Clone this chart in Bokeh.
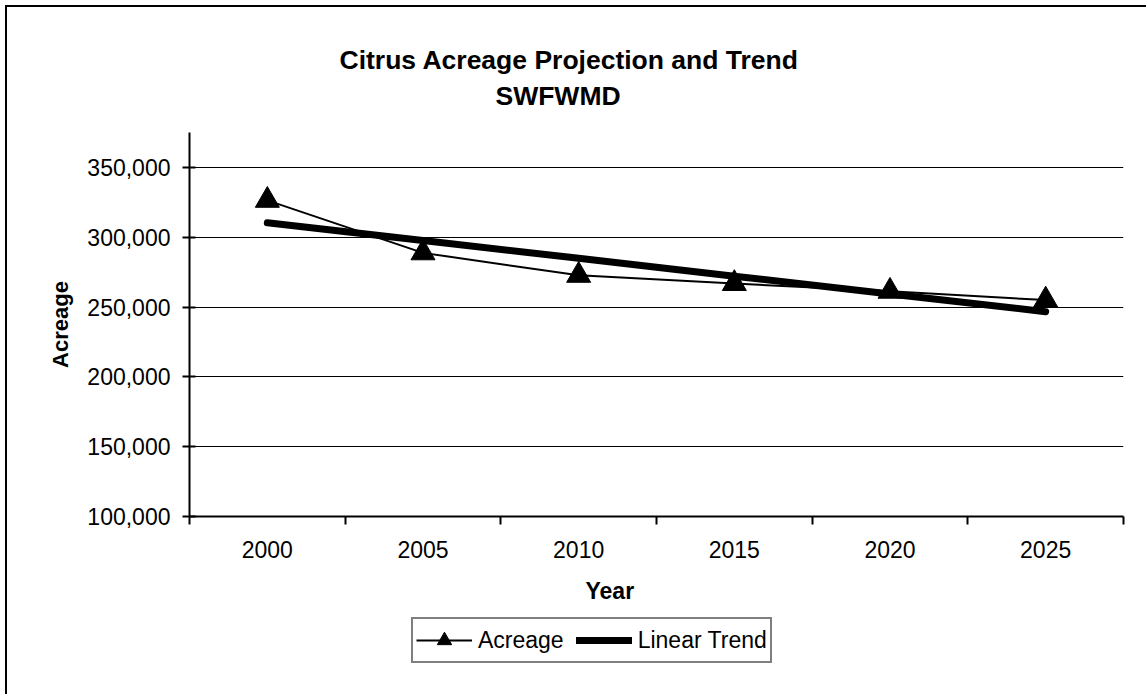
from bokeh.plotting import figure
from bokeh.layouts import column
from bokeh.models import (Range1d, FixedTicker, NumeralTickFormatter, Legend,
                          LegendItem, Title)
from bokeh.embed import file_html
from bokeh.resources import INLINE

# ---- data ----
years = [2000, 2005, 2010, 2015, 2020, 2025]
acreage = [326400, 288800, 272700, 266800, 261300, 255000]
linear_trend = [310300, 297600, 284900, 272100, 259400, 246700]
y_ticks = [100000, 150000, 200000, 250000, 300000, 350000]
title_line1 = "Citrus Acreage Projection and Trend"
title_line2 = "SWFWMD"
x_label = "Year"
y_label = "Acreage"
series_names = ["Acreage", "Linear Trend"]

FONT = "Liberation Sans"

p = figure(width=1146, height=610, output_backend="svg", toolbar_location=None,
           x_range=Range1d(1997.5, 2027.5), y_range=Range1d(100000, 375000),
           min_border_left=189, min_border_right=23, min_border_top=132,
           min_border_bottom=94)
p.outline_line_color = None
p.background_fill_color = "white"
p.border_fill_color = None

# titles (first added = closest to the frame)
spacer = Title(text=" ", text_font=FONT, text_font_size="1px", standoff=17)
t2 = Title(text=title_line2, align="left", offset=306, text_font=FONT,
           text_font_size="26.5px", text_font_style="bold", standoff=4,
           text_color="black")
t1 = Title(text=title_line1, align="left", offset=150, text_font=FONT,
           text_font_size="26.5px", text_font_style="bold", standoff=4,
           text_color="black")
p.add_layout(spacer, "above")
p.add_layout(t2, "above")
p.add_layout(t1, "above")

# x axis: labels at category centres, ticks at boundaries
xa = p.xaxis[0]
xa.ticker = FixedTicker(ticks=years,
                        minor_ticks=[y - 2.5 for y in years] + [years[-1] + 2.5])
xa.major_tick_out = 0
xa.major_tick_in = 0
xa.minor_tick_out = 8
xa.minor_tick_in = 0
xa.minor_tick_line_color = "black"
xa.minor_tick_line_width = 2
xa.axis_line_width = 2
xa.axis_line_color = "black"
xa.major_label_standoff = 16
xa.major_label_text_font = FONT
xa.major_label_text_font_size = "23px"
xa.major_label_text_color = "black"

ya = p.yaxis[0]
ya.ticker = FixedTicker(ticks=y_ticks)
ya.formatter = NumeralTickFormatter(format="0,0")
ya.major_tick_in = 6
ya.major_tick_out = 7
ya.major_tick_line_width = 2
ya.minor_tick_line_color = None
ya.axis_line_width = 2
ya.axis_line_color = "black"
ya.major_label_standoff = 12
ya.major_label_text_font = FONT
ya.major_label_text_font_size = "23px"
ya.major_label_text_color = "black"
ya.axis_label = y_label
ya.axis_label_text_font = FONT
ya.axis_label_text_font_size = "22px"
ya.axis_label_text_font_style = "bold"
ya.axis_label_text_color = "black"
ya.axis_label_standoff = 11

p.xgrid.visible = False
p.ygrid.ticker = FixedTicker(ticks=y_ticks)
p.ygrid.grid_line_color = "black"
p.ygrid.grid_line_width = 1

# series
p.line(years, linear_trend, line_width=7, line_color="black", line_cap="round")
p.line(years, acreage, line_width=2, line_color="black")
p.scatter(years, acreage, marker="triangle", size=24, fill_color="black",
          line_color="black")

# x label as a below title (offset to match reference position)
xspacer = Title(text=" ", text_font=FONT, text_font_size="1px", standoff=12)
yt = Title(text=x_label, align="left", offset=396, text_font=FONT,
           text_font_size="23px", text_font_style="bold", standoff=0,
           text_color="black")
p.add_layout(xspacer, "below")
p.add_layout(yt, "below")

# ---- legend strip (separate figure so the legend sits below the chart) ----
p2 = figure(width=1146, height=84, output_backend="svg", toolbar_location=None,
            x_range=Range1d(0, 1), y_range=Range1d(0, 1),
            x_axis_location=None, y_axis_location=None,
            min_border_left=189, min_border_right=23, min_border_top=0,
            min_border_bottom=0)
p2.outline_line_color = None
p2.background_fill_color = None
p2.border_fill_color = None
p2.xgrid.visible = False
p2.ygrid.visible = False
# same series, drawn outside this strip's ranges: used only for legend glyphs
g_trend = p2.line(years, linear_trend, line_width=7, line_color="black",
                  line_cap="round")
g_line = p2.line(years, acreage, line_width=2, line_color="black")
g_mark = p2.scatter(years, acreage, marker="triangle", size=24,
                    fill_color="black", line_color="black")

legend = Legend(items=[LegendItem(label=series_names[0], renderers=[g_line, g_mark]),
                       LegendItem(label=series_names[1], renderers=[g_trend])],
                orientation="horizontal", location=(222, 31),
                glyph_width=56, glyph_height=36, label_height=36,
                label_standoff=6, spacing=12, padding=3, margin=0,
                label_text_font=FONT, label_text_font_size="23px",
                label_text_color="black",
                border_line_color="black", border_line_width=2,
                background_fill_color="white", background_fill_alpha=1)
p2.add_layout(legend, "center")

layout = column(p, p2, spacing=0)
layout.styles = {
    "background": "linear-gradient(#000,#000) 5px 5px / 2px 3000px no-repeat, "
                  "linear-gradient(#000,#000) 5px 5px / 3000px 2px no-repeat, #fff"
}

open("out.html", "w").write(file_html(layout, INLINE))
